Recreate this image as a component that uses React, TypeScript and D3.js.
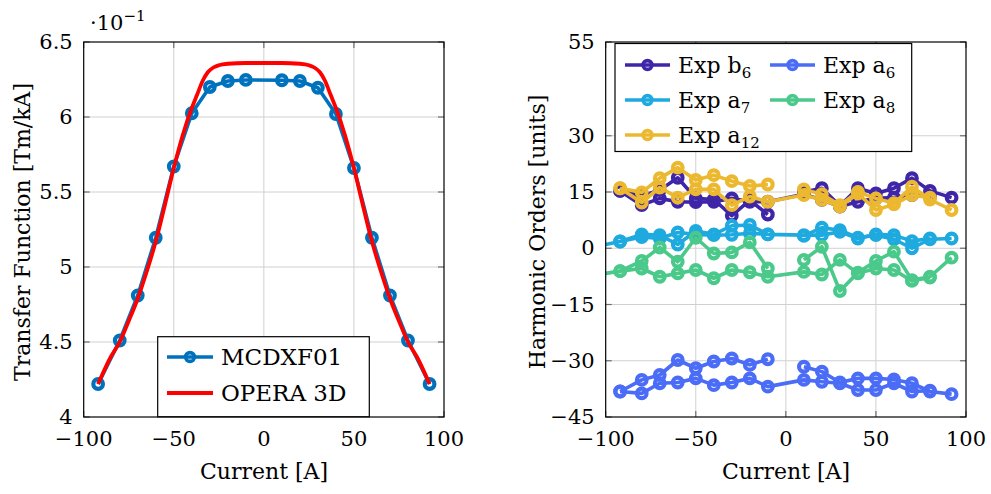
import React from "react";
import * as d3 from "d3";

// ---------- data ----------
// Transfer function (left panel), values in units of 10^-1 Tm/kA
const tfCurrents = [-92, -80, -70, -60, -50, -40, -30, -20, -10, 10, 20, 30, 40, 50, 60, 70, 80, 92];
const mcdxf01 = [4.22, 4.51, 4.81, 5.195, 5.67, 6.025, 6.2, 6.24, 6.247, 6.245, 6.24, 6.195, 6.02, 5.66, 5.195, 4.81, 4.51, 4.22];

const operaCurrents = [-92, -85, -80, -75, -70, -65, -60, -55, -50, -45, -40, -37, -34, -31, -28, -25, -20, -10, 0, 10, 20, 25, 28, 31, 34, 37, 40, 45, 50, 55, 60, 65, 70, 75, 80, 85, 92];
const opera3d = [4.22, 4.4, 4.5, 4.64, 4.79, 4.97, 5.17, 5.41, 5.66, 5.88, 6.06, 6.15, 6.24, 6.3, 6.33, 6.345, 6.355, 6.36, 6.36, 6.36, 6.355, 6.345, 6.33, 6.3, 6.24, 6.15, 6.06, 5.88, 5.66, 5.41, 5.17, 4.97, 4.79, 4.64, 4.5, 4.4, 4.22];

const tfTicksY = [4, 4.5, 5, 5.5, 6, 6.5];
const currentTicks = [-100, -50, 0, 50, 100];

// Harmonics (right panel): three sweeps per harmonic
const sweep1Currents = [-92, -80, -70, -60, -50, -40, -30, -20, -10];
const sweep2Currents = [-92, -80, -70, -60, -50, -40, -30, -20, -10, 10, 20, 30, 40, 50, 60, 70, 80];
const sweep3Currents = [10, 20, 30, 40, 50, 60, 70, 80, 92];
const leadInCurrent = -100;

const b6Sweep1 = [15.3, 14.0, 15.5, 18.8, 13.3, 13.0, 8.7, 12.8, 9.0];
const b6Sweep2 = [15.3, 11.5, 13.3, 12.4, 12.3, 12.4, 13.3, 12.4, 12.4, 14.4, 12.9, 11.1, 12.4, 13.3, 13.5, 14.2, 13.8];
const b6Sweep3 = [15.0, 16.0, 11.3, 16.0, 14.6, 16.0, 18.7, 15.3, 13.5];

const a6Sweep1 = [-38.2, -35.1, -33.8, -29.8, -32.0, -30.2, -29.4, -31.1, -29.6];
const a6Sweep2 = [-38.2, -38.7, -36.0, -35.8, -34.7, -36.5, -35.8, -34.7, -36.9, -35.1, -35.6, -36.0, -37.8, -37.8, -36.0, -38.2, -38.0];
const a6Sweep3 = [-31.6, -32.9, -35.8, -34.7, -34.7, -35.0, -36.0, -38.2, -38.9];

const a7Sweep1 = [1.8, 3.7, 3.5, 1.0, 4.6, 3.7, 6.0, 6.2, 3.7];
const a7Sweep2 = [1.8, 3.0, 2.6, 4.2, 3.7, 3.5, 3.6, 4.0, 3.7, 3.5, 3.5, 4.4, 2.6, 3.7, 3.5, 1.9, 2.6];
const a7Sweep3 = [3.3, 5.5, 4.8, 2.8, 3.5, 2.4, 0.0, 2.4, 2.6];

const a8Sweep1 = [-6.1, -3.4, 0.2, -3.6, 2.8, -1.4, -1.1, 1.6, -5.4];
const a8Sweep2 = [-6.1, -5.4, -7.6, -6.7, -5.8, -8.0, -5.8, -6.4, -7.6, -6.3, -7.0, -3.1, -6.7, -5.4, -5.8, -8.7, -7.8];
const a8Sweep3 = [-3.1, 0.4, -11.4, -6.5, -3.4, -0.9, -8.5, -7.6, -2.5];

const a12Sweep1 = [16.0, 14.9, 18.7, 21.5, 18.2, 19.5, 17.9, 16.6, 17.0];
const a12Sweep2 = [16.0, 12.2, 16.2, 13.5, 15.7, 15.7, 11.5, 13.8, 12.4, 14.2, 12.9, 11.1, 14.6, 10.2, 11.7, 14.2, 13.5];
const a12Sweep3 = [15.7, 14.4, 11.5, 15.0, 13.3, 12.0, 16.4, 13.0, 10.2];

const harmonicTicksY = [-45, -30, -15, 0, 15, 30, 55];

type Harmonic = {
  base: string;
  sub: string;
  color: string;
  s1: number[];
  s2: number[];
  s3: number[];
  leadIn: number | null;
};

const harmonics: Harmonic[] = [
  { base: "Exp b", sub: "6", color: "#3f26a8", s1: b6Sweep1, s2: b6Sweep2, s3: b6Sweep3, leadIn: null },
  { base: "Exp a", sub: "6", color: "#4a6cf6", s1: a6Sweep1, s2: a6Sweep2, s3: a6Sweep3, leadIn: null },
  { base: "Exp a", sub: "7", color: "#1eaadf", s1: a7Sweep1, s2: a7Sweep2, s3: a7Sweep3, leadIn: 1.0 },
  { base: "Exp a", sub: "8", color: "#4bc98b", s1: a8Sweep1, s2: a8Sweep2, s3: a8Sweep3, leadIn: -6.7 },
  { base: "Exp a", sub: "12", color: "#ebb82f", s1: a12Sweep1, s2: a12Sweep2, s3: a12Sweep3, leadIn: null },
];

// ---------- styling ----------
const FONT = "'DejaVu Serif', serif";
const TICK_FS = 21;
const LABEL_FS = 22;
const LEGEND_FS = 22;
const GRID = "#d0d0d0";
const TICKC = "#6e6e6e";
const LINE_W = 3.6;
const MARK_R = 4.8;
const MARK_W = 4.2;

const fmt = (v: number) => (v < 0 ? "\u2212" + Math.abs(v) : String(v));

function Frame(props: {
  x: d3.ScaleLinear<number, number>;
  y: d3.ScaleLinear<number, number>;
  yTicks: number[];
}) {
  const { x, y, yTicks } = props;
  const [x0, x1] = x.range();
  const [y0, y1] = y.range(); // y0 bottom, y1 top
  const tl = 6;
  return (
    <g>
      {currentTicks.slice(1, -1).map((t) => (
        <line key={"gx" + t} x1={x(t)} x2={x(t)} y1={y0} y2={y1} stroke={GRID} strokeWidth={1} />
      ))}
      {yTicks.slice(1, -1).map((t) => (
        <line key={"gy" + t} x1={x0} x2={x1} y1={y(t)} y2={y(t)} stroke={GRID} strokeWidth={1} />
      ))}
      {currentTicks.map((t) => (
        <g key={"tx" + t}>
          <line x1={x(t)} x2={x(t)} y1={y0} y2={y0 - tl} stroke={TICKC} strokeWidth={1.2} />
          <line x1={x(t)} x2={x(t)} y1={y1} y2={y1 + tl} stroke={TICKC} strokeWidth={1.2} />
          <text x={x(t)} y={y0 + 29} textAnchor="middle" fontFamily={FONT} fontSize={TICK_FS} fill="#000">
            {fmt(t)}
          </text>
        </g>
      ))}
      {yTicks.map((t) => (
        <g key={"ty" + t}>
          <line x1={x0} x2={x0 + tl} y1={y(t)} y2={y(t)} stroke={TICKC} strokeWidth={1.2} />
          <line x1={x1} x2={x1 - tl} y1={y(t)} y2={y(t)} stroke={TICKC} strokeWidth={1.2} />
          <text x={x0 - 11} y={y(t)} dy="0.34em" textAnchor="end" fontFamily={FONT} fontSize={TICK_FS} fill="#000">
            {fmt(t)}
          </text>
        </g>
      ))}
    </g>
  );
}

function Box(props: { x: d3.ScaleLinear<number, number>; y: d3.ScaleLinear<number, number> }) {
  const [x0, x1] = props.x.range();
  const [y0, y1] = props.y.range();
  return <rect x={x0} y={y1} width={x1 - x0} height={y0 - y1} fill="none" stroke="#000" strokeWidth={1.2} />;
}

export default function App() {
  // left panel scales
  const xL = d3.scaleLinear().domain([-100, 100]).range([83.7, 444]);
  const yL = d3.scaleLinear().domain([4, 6.5]).range([417, 42]);
  // right panel scales
  const xR = d3.scaleLinear().domain([-100, 100]).range([605.7, 966]);
  const yR = d3.scaleLinear().domain([-45, 55]).range([417, 42]);

  const lineL = d3
    .line<[number, number]>()
    .x((d) => xL(d[0]))
    .y((d) => yL(d[1]));
  const curveL = d3
    .line<[number, number]>()
    .x((d) => xL(d[0]))
    .y((d) => yL(d[1]))
    .curve(d3.curveMonotoneX);
  const lineR = d3
    .line<[number, number]>()
    .x((d) => xR(d[0]))
    .y((d) => yR(d[1]));

  const zip = (xs: number[], ys: number[]) => xs.map((v, i) => [v, ys[i]] as [number, number]);

  const mcdPts = zip(tfCurrents, mcdxf01);
  const operaPts = zip(operaCurrents, opera3d);

  const blue = "#0072bd";
  const red = "#ff0000";

  return (
    <svg
      width={991}
      height={494}
      viewBox="0 0 991 494"
      style={{ position: "absolute", left: 0, top: 0, background: "#fff" }}
    >
      <defs>
        <clipPath id="clipR">
          <rect x={605.7} y={42} width={966 - 605.7} height={375} />
        </clipPath>
      </defs>
      <rect x={0} y={0} width={991} height={494} fill="#fff" />

      {/* ---------------- left panel ---------------- */}
      <Frame x={xL} y={yL} yTicks={tfTicksY} />
      <path d={lineL(mcdPts) || ""} fill="none" stroke={blue} strokeWidth={LINE_W} strokeLinejoin="round" />
      {mcdPts.map((p, i) => (
        <circle key={"m" + i} cx={xL(p[0])} cy={yL(p[1])} r={MARK_R} fill="none" stroke={blue} strokeWidth={MARK_W} />
      ))}
      <path d={curveL(operaPts) || ""} fill="none" stroke={red} strokeWidth={3.8} strokeLinejoin="round" />
      <Box x={xL} y={yL} />

      {/* scale factor */}
      <text x={90} y={30} fontFamily={FONT} fontSize={TICK_FS} fill="#000">
        {"\u00b710"}
        <tspan dy={-9} fontSize={15}>
          {"\u22121"}
        </tspan>
      </text>

      {/* left legend */}
      <g>
        <rect x={157.7} y={336.7} width={211.6} height={80} fill="#fff" stroke="#000" strokeWidth={1.2} />
        <line x1={167} x2={213} y1={357} y2={357} stroke={blue} strokeWidth={LINE_W} />
        <circle cx={190} cy={357} r={4.4} fill="none" stroke={blue} strokeWidth={3.6} />
        <text x={221} y={357} dy="0.36em" fontFamily={FONT} fontSize={LEGEND_FS + 1} fill="#000">
          MCDXF01
        </text>
        <line x1={167} x2={213} y1={393} y2={393} stroke={red} strokeWidth={3.8} />
        <text x={221} y={393} dy="0.36em" fontFamily={FONT} fontSize={LEGEND_FS + 1} fill="#000">
          OPERA 3D
        </text>
      </g>

      {/* axis labels */}
      <text
        transform="translate(22,232) rotate(-90)"
        textAnchor="middle"
        dy="0.36em"
        fontFamily={FONT}
        fontSize={LABEL_FS}
        fill="#000"
      >
        Transfer Function [Tm/kA]
      </text>
      <text x={264} y={479} textAnchor="middle" fontFamily={FONT} fontSize={LABEL_FS} fill="#000">
        Current [A]
      </text>

      {/* ---------------- right panel ---------------- */}
      <Frame x={xR} y={yR} yTicks={harmonicTicksY} />
      <g clipPath="url(#clipR)">
        {harmonics.map((h, k) => {
          const p1 = zip(sweep1Currents, h.s1);
          const p2 = zip(sweep2Currents, h.s2);
          const p3 = zip(sweep3Currents, h.s3);
          const lead = h.leadIn === null ? p2 : [[leadInCurrent, h.leadIn] as [number, number], ...p2];
          const all = [...p1, ...p2, ...p3];
          return (
            <g key={"h" + k}>
              <path d={lineR(p1) || ""} fill="none" stroke={h.color} strokeWidth={LINE_W} strokeLinejoin="round" />
              <path d={lineR(lead) || ""} fill="none" stroke={h.color} strokeWidth={LINE_W} strokeLinejoin="round" />
              <path d={lineR(p3) || ""} fill="none" stroke={h.color} strokeWidth={LINE_W} strokeLinejoin="round" />
              {all.map((p, i) => (
                <circle
                  key={i}
                  cx={xR(p[0])}
                  cy={yR(p[1])}
                  r={MARK_R}
                  fill="none"
                  stroke={h.color}
                  strokeWidth={MARK_W}
                />
              ))}
            </g>
          );
        })}
      </g>
      <Box x={xR} y={yR} />

      {/* right legend */}
      <g>
        <rect x={615} y={43.5} width={296.7} height={108} fill="#fff" stroke="#000" strokeWidth={1.2} />
        {harmonics.map((h, i) => {
          const col = i === 1 || i === 3 ? 1 : 0;
          const row = i === 0 || i === 1 ? 0 : i === 2 || i === 3 ? 1 : 2;
          const lx = col === 0 ? 625 : 770;
          const ly = 65 + row * 35;
          return (
            <g key={"lg" + i}>
              <line x1={lx} x2={lx + 45} y1={ly} y2={ly} stroke={h.color} strokeWidth={LINE_W} />
              <circle cx={lx + 22.5} cy={ly} r={4.4} fill="none" stroke={h.color} strokeWidth={3.6} />
              <text x={lx + 53} y={ly} dy="0.36em" fontFamily={FONT} fontSize={LEGEND_FS} fill="#000">
                {h.base}
                <tspan dy={5} fontSize={15}>
                  {h.sub}
                </tspan>
              </text>
            </g>
          );
        })}
      </g>

      <text
        transform="translate(537,232) rotate(-90)"
        textAnchor="middle"
        dy="0.36em"
        fontFamily={FONT}
        fontSize={LABEL_FS}
        fill="#000"
      >
        Harmonic Orders [units]
      </text>
      <text x={786} y={479} textAnchor="middle" fontFamily={FONT} fontSize={LABEL_FS} fill="#000">
        Current [A]
      </text>
    </svg>
  );
}
